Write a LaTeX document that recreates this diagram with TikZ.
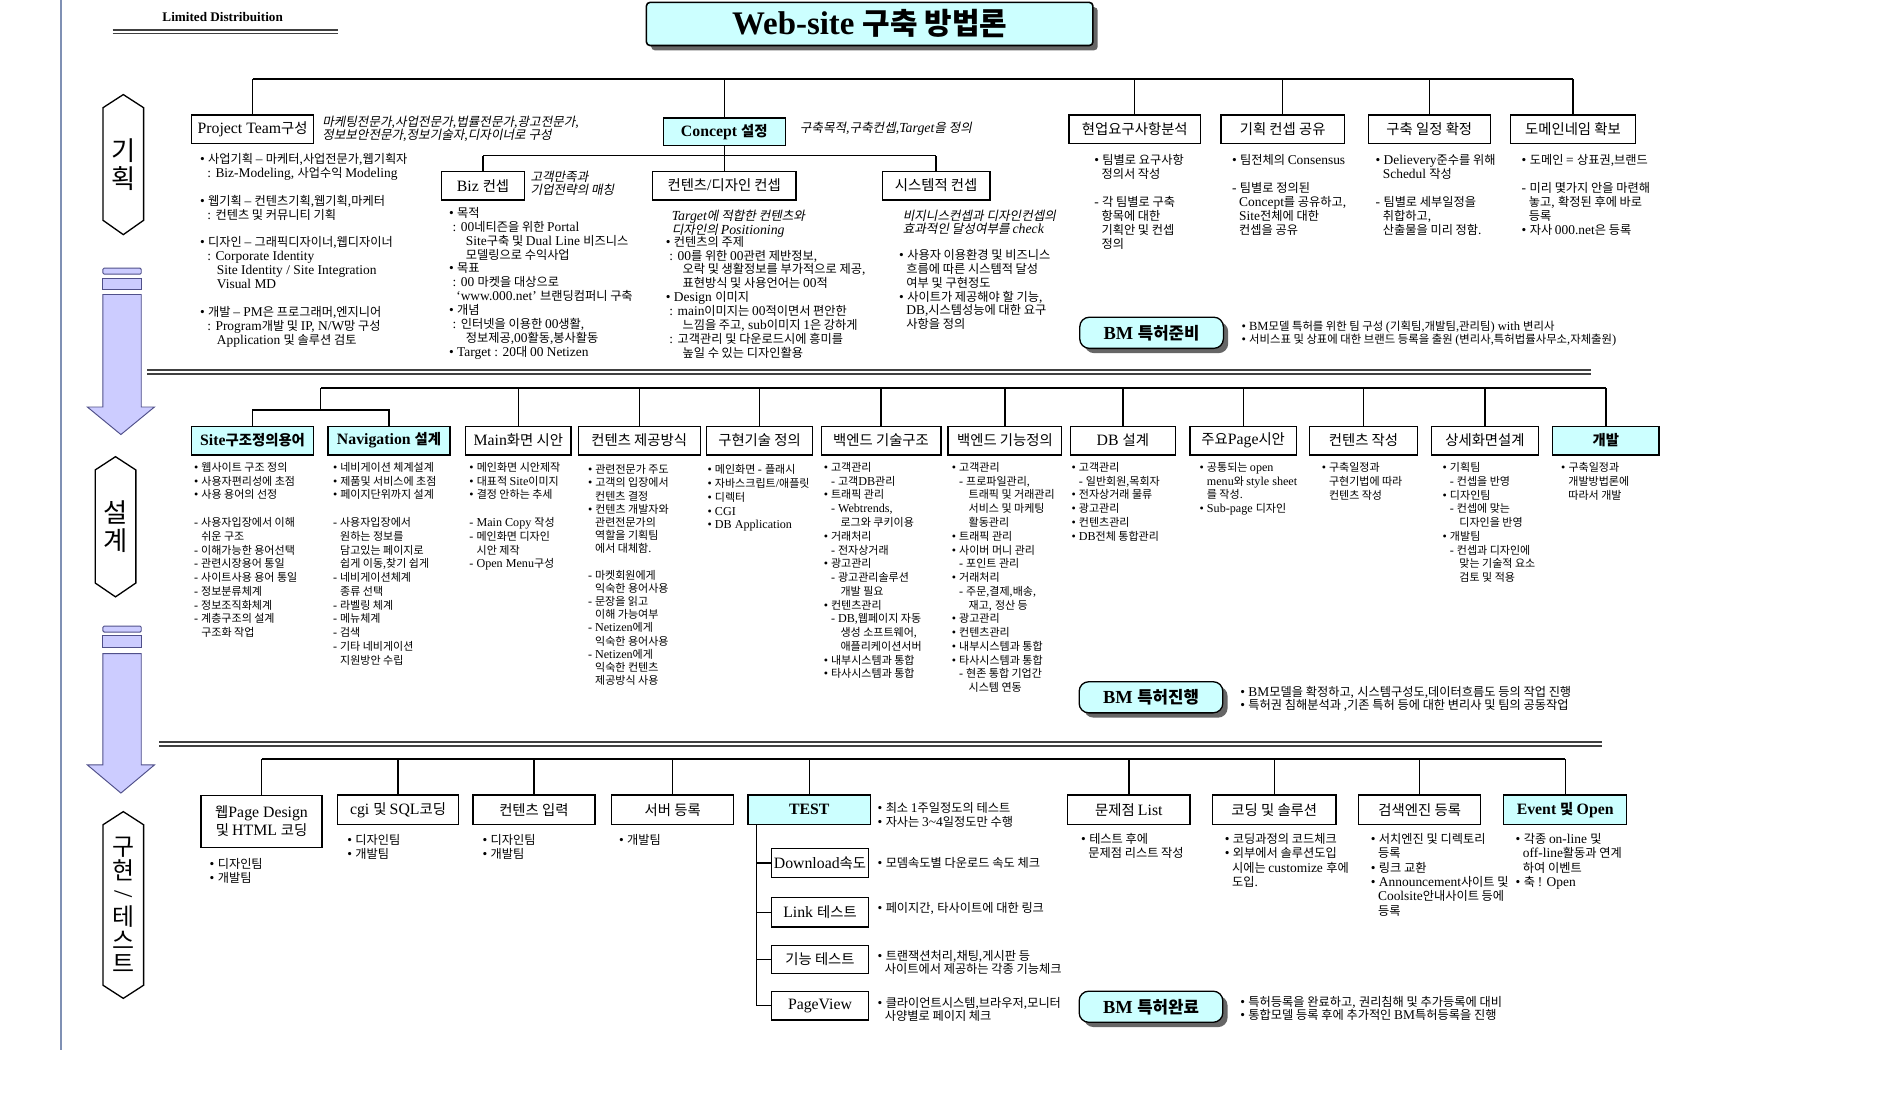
\documentclass[tikz,border=0pt]{standalone}
\usepackage{fontspec}
\usepackage{graphicx}
\usetikzlibrary{shadows}
\setmainfont{Liberation Serif}[Scale=1.1]
\newfontfamily\krfont{Noto Sans CJK KR}[ItalicFont={Noto Sans CJK KR},ItalicFeatures={FakeSlant=0.2}]
\XeTeXinterchartokenstate=1
\newXeTeXintercharclass\hangulclass
\newcount\hgcode
\hgcode="AC00
\loop
  \XeTeXcharclass\hgcode=\hangulclass
  \ifnum\hgcode<"D7A3
  \advance\hgcode by 1
\repeat
\hgcode="3131
\loop
  \XeTeXcharclass\hgcode=\hangulclass
  \ifnum\hgcode<"318E
  \advance\hgcode by 1
\repeat
\XeTeXinterchartoks 0 \hangulclass = {\krfont}
\XeTeXinterchartoks 4095 \hangulclass = {\krfont}
\XeTeXinterchartoks \hangulclass 0 = {\rmfamily}
\XeTeXinterchartoks 4095 0 = {\rmfamily}
\definecolor{keycyan}{HTML}{CCFFFF}
\definecolor{arrowfill}{HTML}{CCCCFF}
\definecolor{arrowline}{HTML}{50508A}
\definecolor{rulecol}{HTML}{7F90B4}
\newcommand{\lpad}{\hspace*{6pt}}
\newcommand{\llpad}{\hspace*{14pt}}
\begin{document}
\begin{tikzpicture}[x=1pt,y=-1pt]
\tikzset{
  box/.style={draw, line width=1.1pt, minimum height=24, inner sep=1pt, font=\fontsize{12}{15}\selectfont},
  keybox/.style={box, fill=keycyan, font=\fontsize{12}{15}\selectfont\bfseries},
  bmbox/.style={draw, line width=1.1pt, rounded corners=8pt, fill=keycyan, minimum width=120, minimum height=26,
    font=\fontsize{14}{16}\selectfont\bfseries, drop shadow={shadow xshift=4pt, shadow yshift=-4pt, fill=black!60, opacity=1}},
  txt/.style={anchor=north west, align=left, inner sep=0pt, font=\fontsize{10.2}{11.6}\selectfont},
  stxt/.style={txt, font=\fontsize{9.2}{11.5}\selectfont},
  bmtxt/.style={txt, font=\fontsize{10.2}{11}\selectfont},
  note/.style={txt, font=\fontsize{10.5}{11}\selectfont\itshape},
  link/.style={line width=1.1pt},
  hexa/.style={draw, line width=1.1pt, fill=white},
  flow/.style={draw=arrowline, line width=0.8pt, fill=arrowfill},
  stage/.style={align=center, inner sep=0pt, font=\fontsize{22}{23.5}\selectfont},
  seprule/.style={line width=1.3pt, black!75}
}
\useasboundingbox (0,0) rectangle (1568,930);
\fill[white] (0,0) rectangle (1568,930);

\draw[rulecol, line width=1pt] (51,0) -- (51,877);
\node[font=\fontsize{10}{12}\selectfont\bfseries] (ltd) at (186,14.5) {Limited Distribuition};
\draw[seprule, line width=1pt] (94,25) -- (282,25) (94,28) -- (282,28);
\node[draw, line width=1.3pt, rounded corners=3pt, fill=keycyan, minimum width=373, minimum height=36,
  font=\fontsize{25}{28}\selectfont\bfseries, drop shadow={shadow xshift=4pt, shadow yshift=-4pt, fill=black!60, opacity=1}]
  (title) at (726.5,20) {Web-site 구축 방법론};

\draw[hexa] (86,90) -- (103,79) -- (120,90) -- (120,184) -- (103,196) -- (86,184) -- cycle;
\node[stage] (plan) at (103,137.5) {기\\획};
\draw[hexa] (79.5,392.6) -- (96.5,381.5) -- (113.5,392.6) -- (113.5,487) -- (96.5,498.6) -- (79.5,487) -- cycle;
\node[stage] (design) at (96.5,440) {설\\계};
\draw[hexa] (86,689) -- (103,678) -- (120,689) -- (120,823) -- (103,834) -- (86,823) -- cycle;
\node[stage, font=\fontsize{20}{19.5}\selectfont] (build) at (103,756) {구\\현\\\rotatebox[origin=c]{-90}{/}\\테\\스\\트};

\draw[flow, rounded corners=1pt] (86,224) rectangle (118,229);
\draw[flow] (86,233) rectangle (118,242);
\draw[flow] (86,246) -- (118,246) -- (118,340) -- (129,340) -- (101,363) -- (73,340) -- (86,340) -- cycle;
\draw[flow, rounded corners=1pt] (86,523) rectangle (118,528);
\draw[flow] (86,531) rectangle (118,541);
\draw[flow] (86,546) -- (118,546) -- (118,639) -- (129,639) -- (101,662.5) -- (73,639) -- (86,639) -- cycle;

\draw[seprule] (123,309) -- (1329,309) (123,312.5) -- (1329,312.5);
\draw[seprule] (133,620) -- (1338,620) (133,623) -- (1338,623);

\node[box, minimum width=102] (pt) at (211,108) {Project Team구성};
\node[keybox, minimum width=102, minimum height=23] (con) at (605,110) {Concept 설정};
\node[box, minimum width=110] (req) at (948,108) {현업요구사항분석};
\node[box, minimum width=103] (share) at (1071.5,108) {기획 컨셉 공유};
\node[box, minimum width=102] (sched) at (1194,108) {구축 일정 확정};
\node[box, minimum width=104] (dom) at (1314,108) {도메인네임 확보};
\node[box, minimum width=69] (biz) at (403.5,155) {Biz 컨셉};
\node[box, minimum width=120] (cdc) at (605,155) {컨텐츠/디자인 컨셉};
\node[box, minimum width=90] (sysc) at (782,155) {시스템적 컨셉};

\coordinate (bus1) at (0,66);
\coordinate (bus2) at (0,130);
\foreach \n in {pt,con,req,share,sched,dom} \draw[link] (\n.north) -- (\n.north |- bus1);
\draw[link] (pt.north |- bus1) -- (dom.north |- bus1);
\draw[link] (con.south) -- (con.south |- bus2);
\foreach \n in {biz,cdc,sysc} \draw[link] (\n.north) -- (\n.north |- bus2);
\draw[link] (biz.north |- bus2) -- (sysc.north |- bus2);

\node[note] (ptn) at (269,97) {마케팅전문가,사업전문가,법률전문가,광고전문가,\\정보보안전문가,정보기술자,디자이너로 구성};
\node[txt] (ptx) at (167,128) {• 사업기획 – 마케터,사업전문가,웹기획자\\
\lpad: Biz-Modeling, 사업수익 Modeling\\[11.6pt]
• 웹기획 – 컨텐츠기획,웹기획,마케터\\
\lpad: 컨텐츠 및 커뮤니티 기획\\[11.6pt]
• 디자인 – 그래픽디자이너,웹디자이너\\
\lpad: Corporate Identity\\
\llpad Site Identity / Site Integration\\
\llpad Visual MD\\[11.6pt]
• 개발 – PM은 프로그래머,엔지니어\\
\lpad: Program개발 및 IP, N/W망 구성\\
\llpad Application 및 솔루션 검토};
\node[note] (bizn) at (443,143) {고객만족과\\기업전략의 매칭};
\node[txt] (bizx) at (375,173) {• 목적\\
\hspace*{3pt}: 00네티즌을 위한 Portal\\
\llpad Site구축 및 Dual Line 비즈니스\\
\llpad 모델링으로 수익사업\\
• 목표\\
\hspace*{3pt}: 00 마켓을 대상으로\\
\lpad `www.000.net' 브랜딩컴퍼니 구축\\
• 개념\\
\hspace*{3pt}: 인터넷을 이용한 00생활,\\
\llpad 정보제공,00활동,봉사활동\\
• Target : 20대 00 Netizen};
\node[note] (conn) at (668,102) {구축목적,구축컨셉,Target을 정의};
\node[note] (cdcn) at (561,175) {Target에 적합한 컨텐츠와\\디자인의 Positioning};
\node[txt] (cdcx) at (556,197) {• 컨텐츠의 주제\\
\hspace*{3pt}: 00를 위한 00관련 제반정보,\\
\llpad 오락 및 생활정보를 부가적으로 제공,\\
\llpad 표현방식 및 사용언어는 00적\\
• Design 이미지\\
\hspace*{3pt}: main이미지는 00적이면서 편안한\\
\llpad 느낌을 주고, sub이미지 1은 강하게\\
\hspace*{3pt}: 고객관리 및 다운로드시에 흥미를\\
\llpad 높일 수 있는 디자인활용};
\node[note] (sysn) at (754,175) {비지니스컨셉과 디자인컨셉의\\효과적인 달성여부를 check};
\node[txt] (sysx) at (751,208) {• 사용자 이용환경 및 비즈니스\\
\lpad 흐름에 따른 시스템적 달성\\
\lpad 여부 및 구현정도\\
• 사이트가 제공해야 할 기능,\\
\lpad DB,시스템성능에 대한 요구\\
\lpad 사항을 정의};
\node[txt] (reqx) at (914,129) {• 팀별로 요구사항\\
\lpad 정의서 작성\\[11.6pt]
- 각 팀별로 구축\\
\lpad 항목에 대한\\
\lpad 기획안 및 컨셉\\
\lpad 정의};
\node[txt] (sharex) at (1029,129) {• 팀전체의 Consensus\\[11.6pt]
- 팀별로 정의된\\
\lpad Concept를 공유하고,\\
\lpad Site전체에 대한\\
\lpad 컨셉을 공유};
\node[txt] (schedx) at (1149,129) {• Delievery준수를 위해\\
\lpad Schedul 작성\\[11.6pt]
- 팀별로 세부일정을\\
\lpad 취합하고,\\
\lpad 산출물을 미리 정함.};
\node[txt] (domx) at (1271,129) {• 도메인 = 상표권,브랜드\\[11.6pt]
- 미리 몇가지 안을 마련해\\
\lpad 놓고, 확정된 후에 바로\\
\lpad 등록\\
• 자사 000.net은 등록};

\node[bmbox] (bm1) at (962,278) {BM 특허준비};
\node[txt, font=\fontsize{9.5}{9.5}\selectfont] (bm1x) at (1037,268) {• BM모델 특허를 위한 팀 구성 (기획팀,개발팀,관리팀) with 변리사\\
• 서비스표 및 상표에 대한 브랜드 등록을 출원 (변리사,특허법률사무소,자체출원)};

\node[keybox, minimum width=102] (site) at (211,368) {Site구조정의용어};
\node[keybox, minimum width=102] (nav) at (325,368) {Navigation 설계};
\node[box, minimum width=88] (mainp) at (433,368) {Main화면 시안};
\node[box, minimum width=102] (cprov) at (534,368) {컨텐츠 제공방식};
\node[box, minimum width=89] (tech) at (634.5,368) {구현기술 정의};
\node[box, minimum width=100] (betech) at (736,368) {백엔드 기술구조};
\node[box, minimum width=95] (befunc) at (839.5,368) {백엔드 기능정의};
\node[box, minimum width=88] (db) at (938,368) {DB 설계};
\node[box, minimum width=89] (keyp) at (1038.5,368) {주요Page시안};
\node[box, minimum width=90] (cwrite) at (1139,368) {컨텐츠 작성};
\node[box, minimum width=89] (detail) at (1240.5,368) {상세화면설계};
\node[keybox, minimum width=89] (dev) at (1341.5,368) {개발};

\coordinate (bus3) at (0,324);
\coordinate (sn) at (268,342.5);
\draw[link] (sn) -- (sn |- bus3);
\draw[link] (site.north) |- (sn) -| (nav.north);
\foreach \n in {mainp,cprov,tech,betech,befunc,db,keyp,cwrite,detail,dev} \draw[link] (\n.north) -- (\n.north |- bus3);
\draw[link] (sn |- bus3) -- (dev.north |- bus3);

\node[stxt] (sitex) at (162,386) {• 웹사이트 구조 정의\\
• 사용자편리성에 초점\\
• 사용 용어의 선정\\[11.5pt]
- 사용자입장에서 이해\\
\lpad 쉬운 구조\\
- 이해가능한 용어선택\\
- 관련시장용어 통일\\
- 사이트사용 용어 통일\\
- 정보분류체계\\
- 정보조직화체계\\
- 계층구조의 설계\\
\lpad 구조화 작업};
\node[stxt] (navx) at (278,386) {• 네비게이션 체계설계\\
• 제품및 서비스에 초점\\
• 페이지단위까지 설계\\[11.5pt]
- 사용자입장에서\\
\lpad 원하는 정보를\\
\lpad 담고있는 페이지로\\
\lpad 쉽게 이동,찾기 쉽게\\
- 네비게이션체계\\
\lpad 종류 선택\\
- 라벨링 체계\\
- 메뉴체계\\
- 검색\\
- 기타 네비게이션\\
\lpad 지원방안 수립};
\node[stxt] (mainx) at (392,386) {• 메인화면 시안제작\\
• 대표적 Site이미지\\
• 결정 안하는 추세\\[11.5pt]
- Main Copy 작성\\
- 메인화면 디자인\\
\lpad 시안 제작\\
- Open Menu구성};
\node[stxt, font=\fontsize{9.2}{11}\selectfont] (cprovx) at (491,388) {• 관련전문가 주도\\
• 고객의 입장에서\\
\lpad 컨텐츠 결정\\
• 컨텐츠 개발자와\\
\lpad 관련전문가의\\
\lpad 역할을 기획팀\\
\lpad 에서 대체함.\\[11pt]
- 마켓회원에게\\
\lpad 익숙한 용어사용\\
- 문장을 읽고\\
\lpad 이해 가능여부\\
- Netizen에게\\
\lpad 익숙한 용어사용\\
- Netizen에게\\
\lpad 익숙한 컨텐츠\\
\lpad 제공방식 사용};
\node[stxt] (techx) at (591,388) {• 메인화면 - 플래시\\
• 자바스크립트/애플릿\\
• 디렉터\\
• CGI\\
• DB Application};
\node[stxt] (betechx) at (688,386) {• 고객관리\\
\lpad - 고객DB관리\\
• 트래픽 관리\\
\lpad - Webtrends,\\
\llpad 로그와 쿠키이용\\
• 거래처리\\
\lpad - 전자상거래\\
• 광고관리\\
\lpad - 광고관리솔루션\\
\llpad 개발 필요\\
• 컨텐츠관리\\
\lpad - DB,웹페이지 자동\\
\llpad 생성 소프트웨어,\\
\llpad 애플리케이션서버\\
• 내부시스템과 통합\\
• 타사시스템과 통합};
\node[stxt] (befuncx) at (795,386) {• 고객관리\\
\lpad - 프로파일관리,\\
\llpad 트래픽 및 거래관리\\
\llpad 서비스 및 마케팅\\
\llpad 활동관리\\
• 트래픽 관리\\
• 사이버 머니 관리\\
\lpad - 포인트 관리\\
• 거래처리\\
\lpad - 주문,결제,배송,\\
\llpad 재고, 정산 등\\
• 광고관리\\
• 컨텐츠관리\\
• 내부시스템과 통합\\
• 타사시스템과 통합\\
\lpad - 현존 통합 기업간\\
\llpad 시스템 연동};
\node[stxt] (dbx) at (895,386) {• 고객관리\\
\lpad - 일반회원,목회자\\
• 전자상거래 물류\\
• 광고관리\\
• 컨텐츠관리\\
• DB전체 통합관리};
\node[stxt] (keypx) at (1002,386) {• 공통되는 open\\
\lpad menu와 style sheet\\
\lpad 를 작성.\\
• Sub-page 디자인};
\node[stxt] (cwritex) at (1104,386) {• 구축일정과\\
\lpad 구현기법에 따라\\
\lpad 컨텐츠 작성};
\node[stxt] (detailx) at (1205,386) {• 기획팀\\
\lpad - 컨셉을 반영\\
• 디자인팀\\
\lpad - 컨셉에 맞는\\
\llpad 디자인을 반영\\
• 개발팀\\
\lpad - 컨셉과 디자인에\\
\llpad 맞는 기술적 요소\\
\llpad 검토 및 적용};
\node[stxt] (devx) at (1304,386) {• 구축일정과\\
\lpad 개발방법론에\\
\lpad 따라서 개발};

\node[bmbox] (bm2) at (961.5,582.5) {BM 특허진행};
\node[bmtxt] (bm2x) at (1036,573) {• BM모델을 확정하고, 시스템구성도,데이터흐름도 등의 작업 진행\\
• 특허권 침해분석과 ,기존 특허 등에 대한 변리사 및 팀의 공동작업};

\node[box, minimum width=101, minimum height=43.5, align=center] (web) at (218.5,686) {웹Page Design\\및 HTML 코딩};
\node[box, minimum width=101, minimum height=25] (cgi) at (332.5,676.5) {cgi 및 SQL코딩};
\node[box, minimum width=102, minimum height=25] (cin) at (446,676.5) {컨텐츠 입력};
\node[box, minimum width=102, minimum height=25] (srv) at (562,676.5) {서버 등록};
\node[keybox, minimum width=102.5, minimum height=25] (test) at (676,676.5) {TEST};
\node[box, minimum width=102, minimum height=25] (issue) at (943,676.5) {문제점 List};
\node[box, minimum width=103, minimum height=25] (code) at (1064.5,676.5) {코딩 및 솔루션};
\node[box, minimum width=102, minimum height=25] (seng) at (1186,676.5) {검색엔진 등록};
\node[keybox, minimum width=103, minimum height=25] (evt) at (1307.5,676.5) {Event 및 Open};
\node[box, minimum width=81, minimum height=24.5] (dl) at (685,721) {Download속도};
\node[box, minimum width=81, minimum height=24.5] (lk) at (685,762) {Link 테스트};
\node[box, minimum width=81, minimum height=23] (fn) at (685,801.5) {기능 테스트};
\node[box, minimum width=81, minimum height=24] (pv) at (685,840) {PageView};

\coordinate (bus4) at (0,634);
\coordinate (spine) at (632,0);
\foreach \n in {web,cgi,cin,srv,test,issue,code,seng,evt} \draw[link] (\n.north) -- (\n.north |- bus4);
\draw[link] (web.north |- bus4) -- (evt.north |- bus4);
\draw[link] (test.south -| spine) |- (pv.west);
\foreach \n in {dl,lk,fn} \draw[link] (\n.west) -- (\n.west -| spine);

\node[txt] (webx) at (175,717) {• 디자인팀\\• 개발팀};
\node[txt] (cgix) at (290,697) {• 디자인팀\\• 개발팀};
\node[txt] (cinx) at (403,697) {• 디자인팀\\• 개발팀};
\node[txt] (srvx) at (517,697) {• 개발팀};
\node[txt] (testx) at (733,670) {• 최소 1주일정도의 테스트\\• 자사는 3\textasciitilde 4일정도만 수행};
\node[txt] (dlx) at (733,716) {• 모뎀속도별 다운로드 속도 체크};
\node[txt] (lkx) at (733,754) {• 페이지간, 타사이트에 대한 링크};
\node[txt, font=\fontsize{10.2}{11}\selectfont] (fnx) at (733,794) {• 트랜잭션처리,채팅,게시판 등\\
\lpad 사이트에서 제공하는 각종 기능체크};
\node[txt, font=\fontsize{10.2}{10.5}\selectfont] (pvx) at (733,833) {• 클라이언트시스템,브라우저,모니터\\
\lpad 사양별로 페이지 체크};
\node[txt] (issuex) at (903,696) {• 테스트 후에\\
\lpad 문제점 리스트 작성};
\node[txt, font=\fontsize{10.2}{12}\selectfont] (codex) at (1023,696) {• 코딩과정의 코드체크\\
• 외부에서 솔루션도입\\
\lpad 시에는 customize 후에\\
\lpad 도입.};
\node[txt, font=\fontsize{10.2}{12}\selectfont] (sengx) at (1145,696) {• 서치엔진 및 디렉토리\\
\lpad 등록\\
• 링크 교환\\
• Announcement사이트 및\\
\lpad Coolsite안내사이트 등에\\
\lpad 등록};
\node[txt, font=\fontsize{10.2}{12}\selectfont] (evtx) at (1266,696) {• 각종 on-line 및\\
\lpad off-line활동과 연계\\
\lpad 하여 이벤트\\
• 축 ! Open};

\node[bmbox] (bm3) at (961.5,841) {BM 특허완료};
\node[bmtxt] (bm3x) at (1036,832) {• 특허등록을 완료하고, 권리침해 및 추가등록에 대비\\
• 통합모델 등록 후에 추가적인 BM특허등록을 진행};
\end{tikzpicture}
\end{document}
